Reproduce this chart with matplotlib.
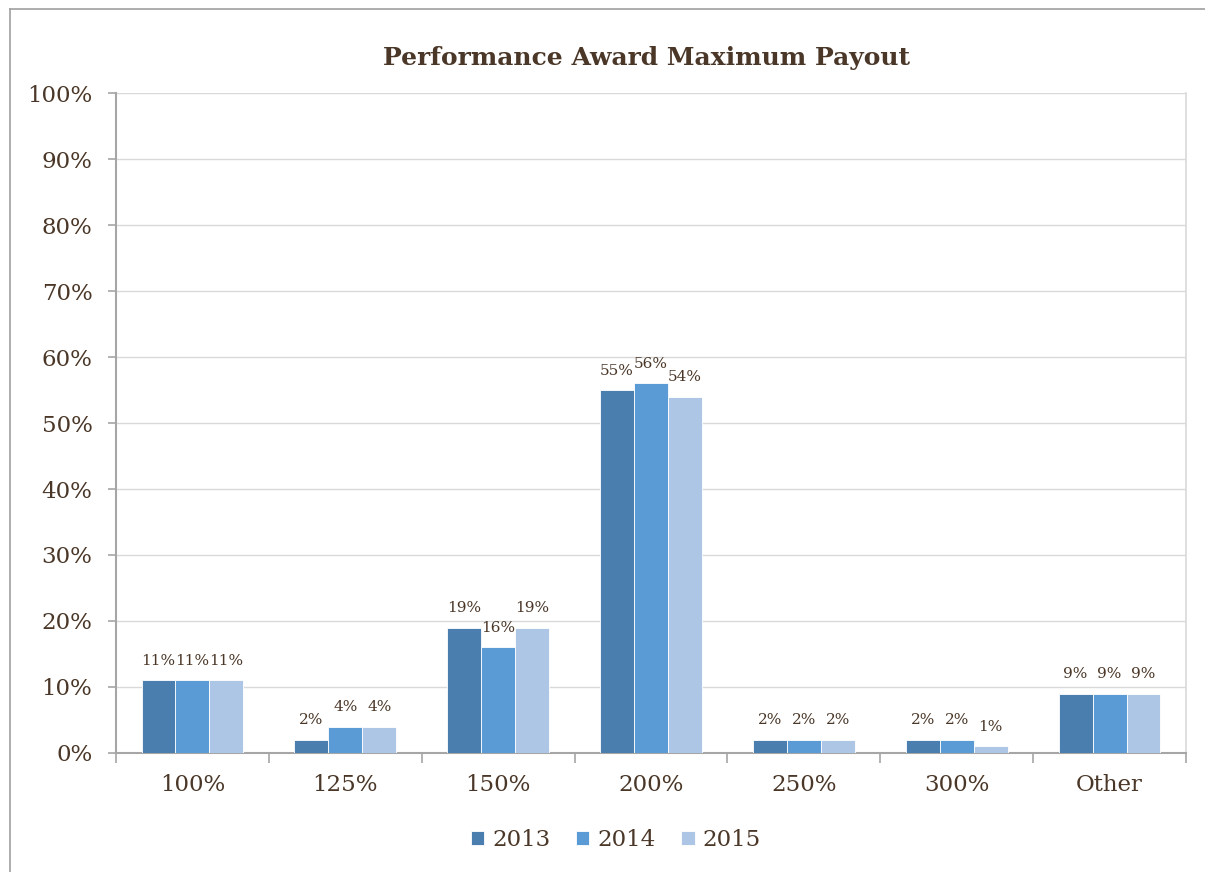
import matplotlib
matplotlib.use("Agg")
import matplotlib.pyplot as plt
import numpy as np
from matplotlib.lines import Line2D
from matplotlib.ticker import FuncFormatter, MultipleLocator

categories = ["100%", "125%", "150%", "200%", "250%", "300%", "Other"]
series_names = ["2013", "2014", "2015"]
values_2013 = [11, 2, 19, 55, 2, 2, 9]
values_2014 = [11, 4, 16, 56, 2, 2, 9]
values_2015 = [11, 4, 19, 54, 2, 1, 9]
colors = ["#4A7EAF", "#5B9BD5", "#ADC6E5"]
title = "Performance Award Maximum Payout"

text_color = "#4A3728"
font = "DejaVu Serif"
plt.rcParams["font.family"] = [font]

fig = plt.figure(figsize=(12.05, 8.72), dpi=100)
ax = fig.add_axes([0.0963, 0.1365, 0.9842 - 0.0963, 0.8933 - 0.1365])

x = np.arange(len(categories))
w = 0.222
series = [values_2013, values_2014, values_2015]
for i, (vals, c, name) in enumerate(zip(series, colors, series_names)):
    pos = x + (i - 1) * w
    bars = ax.bar(pos, vals, width=w, color=c, edgecolor="white", linewidth=0.6, label=name, zorder=3)
    for b, v in zip(bars, vals):
        ax.annotate(f"{v}%", (b.get_x() + b.get_width() / 2, v), xytext=(0, 9),
                    textcoords="offset points", ha="center", va="bottom",
                    fontsize=11, color=text_color, zorder=4)

ax.set_xlim(-0.5, len(categories) - 0.5)
ax.set_ylim(0, 100)
ax.yaxis.set_major_locator(MultipleLocator(10))
ax.yaxis.set_major_formatter(FuncFormatter(lambda v, p: f"{int(v)}%"))
ax.grid(axis="y", color="#D9D9D9", linewidth=1.0, zorder=0)
ax.set_axisbelow(True)

ax.set_xticks(np.arange(len(categories) + 1) - 0.5, minor=False)
ax.set_xticklabels([])
ax.set_xticks(x, minor=True)
ax.set_xticklabels(categories, minor=True)
ax.tick_params(axis="x", which="major", length=7, color="#A6A6A6", width=1.2)
ax.tick_params(axis="x", which="minor", length=0, pad=15, labelsize=16.5, labelcolor=text_color)
ax.tick_params(axis="y", length=6, color="#A6A6A6", width=1.2, labelsize=16.5, labelcolor=text_color, pad=11)

for s in ["left", "bottom"]:
    ax.spines[s].set_color("#A6A6A6")
    ax.spines[s].set_linewidth(1.5)
ax.spines["right"].set_color("#D9D9D9")
ax.spines["right"].set_linewidth(1.2)
ax.spines["top"].set_visible(False)

fig.text(0.5365, 1 - 58 / 872, title, ha="center", va="center", fontsize=18,
         fontweight="bold", color=text_color)

leg = fig.legend(loc="center", bbox_to_anchor=(0.511, 1 - 840 / 872), ncol=3, frameon=False,
                 fontsize=16.5, handlelength=0.6, handleheight=0.6, handletextpad=0.35,
                 columnspacing=1.1)
for t in leg.get_texts():
    t.set_color(text_color)

fig.add_artist(Line2D([10 / 1205, 10 / 1205], [0, 1 - 9 / 872], transform=fig.transFigure,
                      color="#A0A0A0", linewidth=1.2))
fig.add_artist(Line2D([10 / 1205, 1], [1 - 9 / 872, 1 - 9 / 872], transform=fig.transFigure,
                      color="#A0A0A0", linewidth=1.2))

fig.savefig("out.png", dpi=100)
